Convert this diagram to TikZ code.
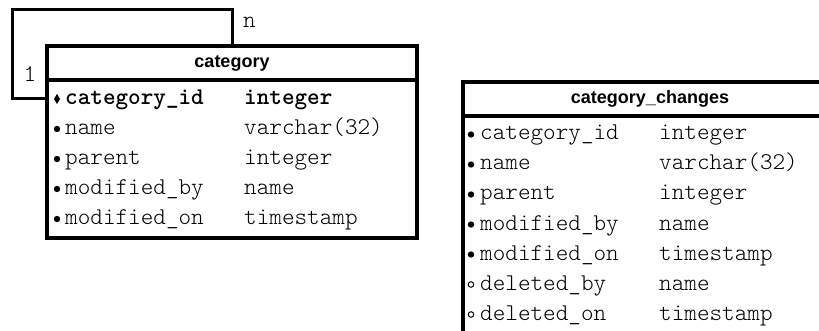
\documentclass[tikz,border=0pt]{standalone}
\usepackage{fontspec}
\setsansfont{Liberation Sans}
\setmonofont{Latin Modern Mono Light}
\usetikzlibrary{calc}
\begin{document}
\begin{tikzpicture}[x=1pt,y=-1pt,
  tabhead/.style={draw, line width=4pt, inner sep=0pt, outer sep=0pt, minimum height=34pt,
    font=\sffamily\bfseries\fontsize{18}{18}\selectfont},
  tabbody/.style={draw, line width=4pt, inner sep=0pt, outer sep=0pt, anchor=north},
  field/.style={anchor=base west, inner sep=0pt,
    font=\ttfamily\fontsize{24}{24}\selectfont},
  keyfield/.style={field, font=\ttfamily\bfseries\fontsize{24}{24}\selectfont},
  dotmark/.style={circle, fill, inner sep=0pt, minimum size=6.4pt},
  ringmark/.style={circle, draw, line width=1pt, inner sep=0pt, minimum size=5.6pt},
  relline/.style={line width=3pt, line join=miter},
]
\useasboundingbox (0,0) rectangle (819,331);
\clip (0,0) rectangle (819,331);

% ---------- table: category ----------
\node[tabhead, minimum width=370pt] (cathead) at (232,63.5) {category};
\node[tabbody, minimum width=370pt, minimum height=157.5pt] (catbody) at (cathead.south) {};

\node[keyfield] (c1n) at (65,105) {category\_id};
\node[keyfield] (c1t) at (244,105) {integer};
\node[field] (c2n) at (65,135) {name};
\node[field] (c2t) at (244,135) {varchar(32)};
\node[field] (c3n) at (65,165) {parent};
\node[field] (c3t) at (244,165) {integer};
\node[field] (c4n) at (65,195) {modified\_by};
\node[field] (c4t) at (244,195) {name};
\node[field] (c5n) at (65,225) {modified\_on};
\node[field] (c5t) at (244,225) {timestamp};

% key marker and column markers
\fill (57,94) -- (60,99) -- (57,104) -- (54,99) -- cycle;
\foreach \yy in {135,165,195,225}
  \node[dotmark] at (57,\yy-6) {};

% ---------- self relation (parent -> category_id) ----------
\coordinate (bendtop) at (12,10);
\draw[relline] (cathead.north) |- (bendtop) |- ($(catbody.north west)+(0,18)$);
\node[field] (mult-n) at (243,28) {n};
\node[field] (mult-1) at (23.5,82) {1};

% ---------- table: category_changes ----------
\node[tabhead, minimum width=374pt] (chghead) at (650,99) {category\_changes};
\node[tabbody, minimum width=374pt, minimum height=260pt] (chgbody) at (chghead.south) {};

\node[field] (g1n) at (480,140) {category\_id};
\node[field] (g1t) at (659,140) {integer};
\node[field] (g2n) at (480,170) {name};
\node[field] (g2t) at (659,170) {varchar(32)};
\node[field] (g3n) at (480,200) {parent};
\node[field] (g3t) at (659,200) {integer};
\node[field] (g4n) at (480,230) {modified\_by};
\node[field] (g4t) at (659,230) {name};
\node[field] (g5n) at (480,260) {modified\_on};
\node[field] (g5t) at (659,260) {timestamp};
\node[field] (g6n) at (480,290) {deleted\_by};
\node[field] (g6t) at (659,290) {name};
\node[field] (g7n) at (480,320) {deleted\_on};
\node[field] (g7t) at (659,320) {timestamp};

\foreach \yy in {140,170,200,230,260}
  \node[dotmark] at (471,\yy-5.5) {};
\foreach \yy in {290,320}
  \node[ringmark] at (471,\yy-5.5) {};
\end{tikzpicture}
\end{document}
